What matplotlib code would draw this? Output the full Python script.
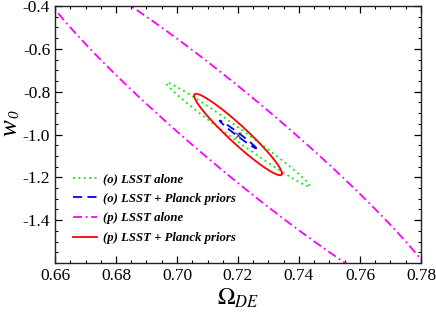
import matplotlib
matplotlib.use('Agg')
import matplotlib.pyplot as plt
import numpy as np
from matplotlib.ticker import MultipleLocator, FormatStrFormatter

plt.rcParams['font.family'] = ['Liberation Serif', 'DejaVu Serif']
plt.rcParams['mathtext.fontset'] = 'stix'
plt.rcParams['axes.unicode_minus'] = False

# contour ellipses: centre, half extent in x and y, correlation
labels = ['(o) LSST alone', '(o) LSST + Planck priors',
          '(p) LSST alone', '(p) LSST + Planck priors']
x_centre = [0.72, 0.72, 0.72, 0.72]
y_centre = [-1.0, -1.0, -1.0, -1.0]
half_dx = [0.0235, 0.0060, 0.0683, 0.0144]
half_dy = [0.242, 0.065, 0.820, 0.190]
rho = [-0.990, -0.990, -0.961, -0.956]

fiducial_x = [0.72]
fiducial_y = [-1.0]

colors = ['#00ee00', '#0000ff', '#ff00ff', '#ff0000']
styles = [(0, (1, 2)), (0, (5, 3)), (0, (5, 2, 1, 2)), '-']

fig = plt.figure(figsize=(4.36, 3.12), dpi=100)
ax = fig.add_axes([55 / 436, 1 - 263 / 312, 366 / 436, 257 / 312])

t = np.linspace(0, 2 * np.pi, 600)
for i in range(4):
    s = np.sqrt(1 - rho[i] ** 2)
    xs = x_centre[i] + half_dx[i] * np.cos(t)
    ys = y_centre[i] + half_dy[i] * (rho[i] * np.cos(t) + s * np.sin(t))
    ax.plot(xs, ys, color=colors[i], linestyle=styles[i], lw=1.3, label=labels[i])

ax.plot(fiducial_x, fiducial_y, marker='x', color='#444444', ms=4, mew=0.8, ls='none')

ax.set_xlim(0.66, 0.78)
ax.xaxis.set_major_locator(MultipleLocator(0.02))
ax.xaxis.set_minor_locator(MultipleLocator(0.005))
ax.yaxis.set_minor_locator(MultipleLocator(0.05))
ax.xaxis.set_major_formatter(FormatStrFormatter('%.2f'))
ax.yaxis.set_major_formatter(FormatStrFormatter('%.1f'))
ax.set_yticks([-1.4, -1.2, -1.0, -0.8, -0.6, -0.4])
ax.set_ylim(-1.6, -0.4)

ax.tick_params(which='both', direction='in', top=True, right=True, labelsize=12.5)
ax.tick_params(which='major', length=5, width=0.9)
ax.tick_params(which='minor', length=2.5, width=0.8)
for sp in ax.spines.values():
    sp.set_linewidth(1.0)
    sp.set_color('#222222')

ax.set_xlabel(r'$\Omega_{DE}$', fontsize=17, labelpad=2)
# y label: italic w with italic subscript 0
fig.text(10 / 436, 1 - 128 / 312, 'w', fontsize=18, style='italic', rotation=90,
         ha='center', va='center')
fig.text(15 / 436, 1 - 114 / 312, '0', fontsize=11, style='italic', rotation=90,
         ha='center', va='center')

ax.legend(loc='upper left', bbox_to_anchor=(0.049, 0.35), frameon=False,
          borderpad=0, borderaxespad=0, handlelength=1.9, handletextpad=0.45,
          labelspacing=0.6, prop={'family': 'Liberation Serif', 'weight': 'bold',
                                  'style': 'italic', 'size': 9.2})

fig.savefig('out.png', dpi=100)
